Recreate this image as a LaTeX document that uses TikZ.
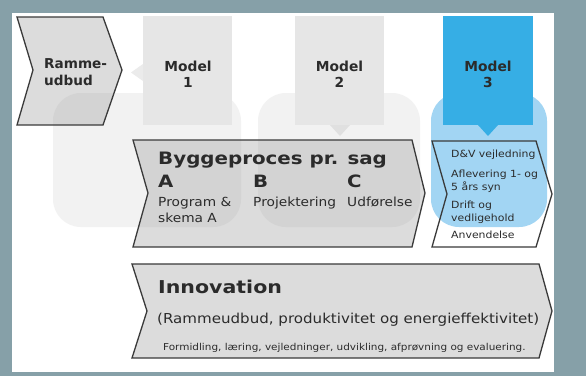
\documentclass[tikz,border=0pt]{standalone}
\usepackage{fontspec}
\setmainfont{DejaVu Sans}
\newfontfamily\vreg{DejaVu Sans}[FakeStretch=1.1]
\newfontfamily\vbold{DejaVu Sans}[FakeStretch=1.16]
\usepackage{tikz}
\usepackage{color}
\definecolor{framegray}{HTML}{86A0A8}
\definecolor{boxgray}{HTML}{E6E6E6}
\definecolor{blobgray}{HTML}{F2F2F2}
\definecolor{arrowgray}{HTML}{E0E0E0}
\definecolor{modelblue}{HTML}{36AEE5}
\definecolor{blobblue}{HTML}{A2D5F3}
\definecolor{edgegray}{HTML}{3A3A3A}
\definecolor{textgray}{HTML}{2B2B2B}

\begin{document}
\begin{tikzpicture}[x=1pt, y=-1pt,
    txt/.style={inner sep=0pt, anchor=base west, text=textgray},
    modeltxt/.style={inner sep=0pt, anchor=base, text=textgray, font=\bfseries\fontsize{13.8}{16}\selectfont},
    chevron/.style={draw=edgegray, line width=1.3pt, line join=miter, fill=black!45, fill opacity=0.3}]
            \useasboundingbox (0,0) rectangle (586,376);
            % Frame
            \fill[framegray]                                                   (0,0) rectangle (586,376);
            \fill[white]                                                       (12,13) rectangle (554,372);
            % Background blobs
            \fill[blobgray, rounded corners=28pt]                              (53,93) rectangle (241,227);
            \fill[blobgray, rounded corners=28pt]                              (258,93) rectangle (420,227);
            \fill[blobblue, rounded corners=28pt]                              (431,93) rectangle (547,227);
            % Model boxes & pointers
            \fill[boxgray]                                                     (143,16) rectangle (232,125);
            \fill[boxgray]                                                     (295,16) rectangle (384,125);
            \fill[modelblue]                                                   (443,16) rectangle (533,125);
            \fill[boxgray!80!white]                                            (143,64) -- (143,81) -- (131,72.5) -- cycle;
            \fill[arrowgray]                                                   (330,125) -- (350,125) -- (340,136) -- cycle;
            \fill[modelblue]                                                   (478,125) -- (498,125) -- (488,136) -- cycle;
            \node[modeltxt] (model1) at (188,71) {Model};
            \node[modeltxt] (num1)   at (188,87) {1};
            \node[modeltxt] (model2) at (339.5,71) {Model};
            \node[modeltxt] (num2)   at (339.5,87) {2};
            \node[modeltxt] (model3) at (488,71)   {Model};
            \node[modeltxt] (num3)   at (488,87)   {3};
            % Rammeudbud
            \draw[chevron] (17,17) -- (103,17) -- (122,70) -- (103,125) -- (17,125) -- (33,70) -- cycle;
            \node[txt, font=\bfseries\fontsize{13.6}{16}\selectfont] (ramme) at (44,68) {Ramme-};
            \node[txt, font=\bfseries\fontsize{13.6}{16}\selectfont] (udbud) at (44,85) {udbud};
            % Byggeproces
            \draw[chevron] (133,140) -- (412,140) -- (425,193) -- (412,247) -- (133,247) -- (148,193) -- cycle;
            \node[txt, font=\vbold\bfseries\fontsize{17.1}{20}\selectfont] (bygge) at (158,164) {Byggeproces pr. sag};
            \node[txt, font=\vbold\bfseries\fontsize{17}{20}\selectfont] (fasea) at (158,187) {A};
            \node[txt, font=\vbold\bfseries\fontsize{17}{20}\selectfont] (faseb) at (253,187) {B};
            \node[txt, font=\vbold\bfseries\fontsize{17}{20}\selectfont] (fasec) at (347,187) {C};
            \node[txt, font=\vreg\fontsize{12.5}{15}\selectfont] (program)  at (158,206) {Program \&};
            \node[txt, font=\vreg\fontsize{12.5}{15}\selectfont] (skema)    at (158,222) {skema A};
            \node[txt, font=\vreg\fontsize{12.5}{15}\selectfont] (projekt)  at (253,206) {Projektering};
            \node[txt, font=\vreg\fontsize{12.5}{15}\selectfont] (udfoer)   at (347,206) {Udførelse};
            % Model 3 steps
            \draw[draw=edgegray, line width=1.3pt, line join=miter] (432,141) -- (536,141) -- (552,194) -- (536,247) -- (432,247) -- (447,194) -- cycle;
            \node[txt, font=\vreg\fontsize{9.9}{12}\selectfont] (dv)      at (451,157) {D\&V vejledning};
            \node[txt, font=\vreg\fontsize{9.9}{12}\selectfont] (aflev)   at (451,177) {Aflevering 1- og};
            \node[txt, font=\vreg\fontsize{9.9}{12}\selectfont] (syn)     at (451,190) {5 års syn};
            \node[txt, font=\vreg\fontsize{9.9}{12}\selectfont] (drift)   at (451,208) {Drift og};
            \node[txt, font=\vreg\fontsize{9.9}{12}\selectfont] (vedlige) at (451,221) {vedligehold};
            \node[txt, font=\vreg\fontsize{9.9}{12}\selectfont] (anvend)  at (451,238) {Anvendelse};
            % Innovation
            \draw[chevron] (132,264) -- (539,264) -- (552,311) -- (539,358) -- (132,358) -- (147,311) -- cycle;
            \node[txt, font=\vbold\bfseries\fontsize{17.7}{20}\selectfont] (innov) at (158,293) {Innovation};
            \node[txt, font=\vreg\fontsize{13.7}{16}\selectfont] (innovsub) at (157,323) {(Rammeudbud, produktivitet og energieffektivitet)};
            \node[txt, font=\vreg\fontsize{9.5}{12}\selectfont] (formidl) at (163,350) {Formidling, læring, vejledninger, udvikling, afprøvning og evaluering.};
        \end{tikzpicture}
\end{document}
